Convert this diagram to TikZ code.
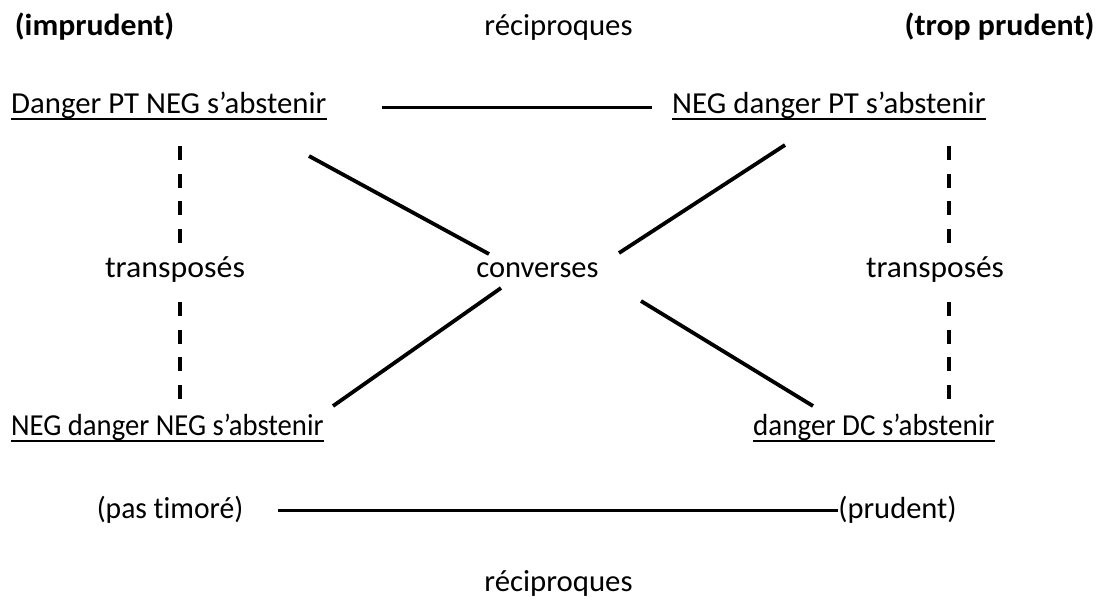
\documentclass[tikz,border=0pt]{standalone}
\usepackage{graphicx}
\usepackage{fontspec}
\setmainfont{Carlito}[Ligatures=NoCommon]
\newcommand{\hs}[2]{\scalebox{#1}[1]{#2}}
\begin{document}
\begin{tikzpicture}[x=1pt,y=-1pt,
  lbl/.style={inner sep=0pt, anchor=base, font=\fontsize{30.5}{36}\selectfont},
  boldlbl/.style={lbl, font=\fontsize{30.5}{36}\selectfont\bfseries},
  prop/.style={lbl, anchor=base west},
  uline/.style={line width=1.6pt},
  link/.style={line width=3.8pt},
  dlink/.style={line width=3.8pt, dash pattern=on 14pt off 13.7pt}]
\useasboundingbox (0,0) rectangle (1099,603);

% headings
\node[boldlbl] (imp) at (94.5,35) {\hs{1.04}{(imprudent)}};
\node[lbl] (rtop) at (558.5,35) {\hs{1.01}{réciproques}};
\node[boldlbl] (trop) at (999.5,35) {\hs{1.045}{(trop prudent)}};

% the four propositions
\node[prop] (A) at (11,113) {\hs{1.01}{Danger PT NEG s’abstenir}};
\node[prop] (B) at (672,113) {\hs{1.013}{NEG danger PT s’abstenir}};
\node[prop] (C) at (11,435) {\hs{0.94}{NEG danger NEG s’abstenir}};
\node[prop] (D) at (753,435) {\hs{0.952}{danger DC s’abstenir}};
\foreach \n in {A,B,C,D}
  \draw[uline] ([yshift=-6pt]\n.base west) -- ([yshift=-6pt]\n.base east);

% relation labels
\node[lbl] (tl) at (175,277) {\hs{1.045}{transposés}};
\node[lbl] (conv) at (537.5,277) {converses};
\node[lbl] (tr) at (935,277) {\hs{1.03}{transposés}};
\node[lbl] (pt) at (170,518) {\hs{0.97}{(pas timoré)}};
\node[lbl] (pr) at (897.5,518) {(prudent)};
\node[lbl] (rbot) at (558.5,591) {\hs{1.01}{réciproques}};

% connector ends
\coordinate (ab1) at (382,107.5);
\coordinate (ab2) at (652,107.5);
\coordinate (pp1) at (278,510.5);
\coordinate (pp2) at (838,510.5);
\coordinate (ac1) at (180,146);
\coordinate (ac2) at (180,245);
\coordinate (ac3) at (180,302);
\coordinate (ac4) at (180,399);
\coordinate (bd1) at (949,146);
\coordinate (bd2) at (949,245);
\coordinate (bd3) at (949,302);
\coordinate (bd4) at (949,399);
\coordinate (ul1) at (309,156);
\coordinate (ul2) at (489,254);
\coordinate (ur1) at (785,145);
\coordinate (ur2) at (619,253);
\coordinate (ll1) at (501,288);
\coordinate (ll2) at (333,406);
\coordinate (lr1) at (641,301);
\coordinate (lr2) at (813,406);

% réciproques
\draw[link] (ab1) -- (ab2);
\draw[link] (pp1) -- (pp2);
% transposés
\draw[dlink] (ac1) -- (ac2);
\draw[dlink] (ac3) -- (ac4);
\draw[dlink] (bd1) -- (bd2);
\draw[dlink] (bd3) -- (bd4);
% converses
\draw[link] (ul1) -- (ul2);
\draw[link] (ur1) -- (ur2);
\draw[link] (ll1) -- (ll2);
\draw[link] (lr1) -- (lr2);
\end{tikzpicture}
\end{document}
